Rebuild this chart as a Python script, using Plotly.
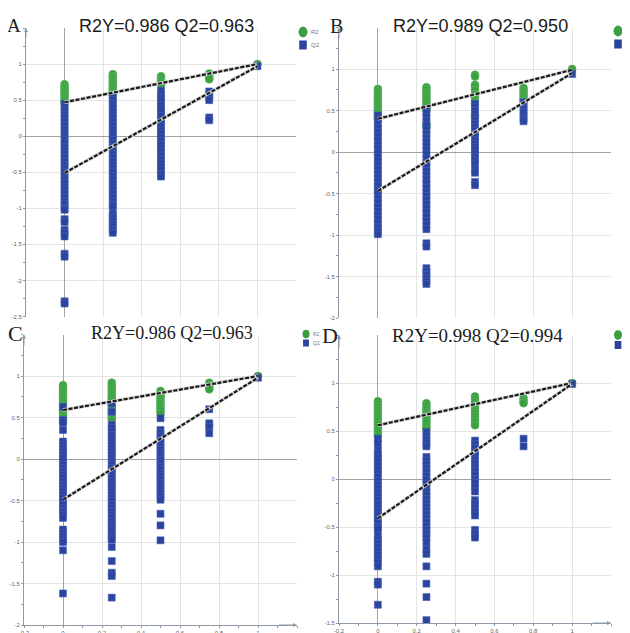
import plotly.graph_objects as go

COLS = [0, 0.25, 0.5, 0.75, 1]
LINE_X = [0, 1]
X_TICKS = [-0.2, 0, 0.2, 0.4, 0.6, 0.8, 1]
X_TICKTEXT = ["-0.2", "0", "0.2", "0.4", "0.6", "0.8", "1"]
LEGEND_LABELS = ["R2", "Q2"]

# ---------------- Panel A ----------------
A_TITLE = "R2Y=0.986 Q2=0.963"
A_R2 = [
    [0.72, 0.69, 0.66, 0.63, 0.60, 0.57, 0.54, 0.51, 0.48, 0.46],
    [0.86, 0.83, 0.80, 0.77, 0.74, 0.71, 0.68, 0.65, 0.62, 0.59, 0.56],
    [0.83, 0.80, 0.77, 0.74, 0.71],
    [0.87, 0.84, 0.81, 0.79],
    [1.0],
]
A_Q2 = [
    [0.45, 0.40, 0.35, 0.30, 0.25, 0.20, 0.15, 0.10, 0.05, 0.00, -0.05, -0.10, -0.15, -0.20,
     -0.25, -0.30, -0.35, -0.40, -0.45, -0.50, -0.55, -0.60, -0.65, -0.70, -0.75, -0.80,
     -0.85, -0.90, -0.95, -1.00, -1.02, -1.15, -1.19, -1.30, -1.34, -1.39, -1.63, -1.67,
     -2.29, -2.32],
    [0.55, 0.50, 0.45, 0.40, 0.35, 0.30, 0.25, 0.20, 0.15, 0.10, 0.05, 0.00, -0.05, -0.10,
     -0.15, -0.20, -0.25, -0.30, -0.35, -0.40, -0.45, -0.50, -0.55, -0.60, -0.65, -0.70,
     -0.75, -0.80, -0.85, -0.90, -0.95, -0.97, -1.06, -1.10, -1.14, -1.18, -1.22, -1.26,
     -1.30, -1.34],
    [0.63, 0.58, 0.53, 0.48, 0.43, 0.38, 0.33, 0.28, 0.23, 0.18, 0.13, 0.08, 0.03, -0.02,
     -0.07, -0.12, -0.17, -0.22, -0.27, -0.32, -0.37, -0.42, -0.47, -0.52, -0.56],
    [0.62, 0.58, 0.54, 0.50, 0.26, 0.22],
    [0.97],
]
A_R2_LINE = [0.47, 1.0]
A_Q2_LINE = [-0.51, 0.97]
A_YTICKS = [1, 0.5, 0, -0.5, -1, -1.5, -2, -2.5]

# ---------------- Panel B ----------------
B_TITLE = "R2Y=0.989 Q2=0.950"
B_R2 = [
    [0.76, 0.73, 0.70, 0.67, 0.64, 0.61, 0.58, 0.55, 0.52, 0.49, 0.46, 0.43, 0.40],
    [0.78, 0.75, 0.72, 0.69, 0.66, 0.63, 0.60, 0.57, 0.54, 0.51, 0.33, 0.30],
    [0.93, 0.91, 0.81, 0.79, 0.75, 0.70, 0.66, 0.62, 0.58, 0.45, 0.42],
    [0.77, 0.74, 0.71, 0.68, 0.65, 0.62],
    [1.0],
]
B_Q2 = [
    [0.44, 0.39, 0.34, 0.29, 0.24, 0.19, 0.14, 0.09, 0.04, -0.01, -0.06, -0.11, -0.16,
     -0.21, -0.26, -0.31, -0.36, -0.41, -0.46, -0.51, -0.56, -0.61, -0.66, -0.71, -0.76,
     -0.81, -0.86, -0.91, -0.96, -0.99],
    [0.52, 0.47, 0.42, 0.37, 0.32, 0.27, 0.22, 0.17, 0.12, 0.07, 0.02, -0.03, -0.08, -0.13,
     -0.18, -0.23, -0.28, -0.33, -0.38, -0.43, -0.48, -0.53, -0.58, -0.63, -0.68, -0.73,
     -0.78, -0.83, -0.88, -0.93, -1.10, -1.14, -1.40, -1.44, -1.48, -1.52, -1.56, -1.59],
    [0.58, 0.54, 0.50, 0.46, 0.42, 0.38, 0.34, 0.30, 0.26, 0.22, 0.18, 0.14, 0.10, 0.06,
     0.02, -0.02, -0.06, -0.10, -0.14, -0.21, -0.25, -0.36, -0.40],
    [0.60, 0.56, 0.52, 0.48, 0.44, 0.40, 0.37],
    [0.94],
]
B_R2_LINE = [0.40, 0.99]
B_Q2_LINE = [-0.47, 0.95]
B_YTICKS = [1, 0.5, 0, -0.5, -1, -1.5, -2]

# ---------------- Panel C ----------------
C_TITLE = "R2Y=0.986 Q2=0.963"
C_R2 = [
    [0.89, 0.86, 0.83, 0.80, 0.77, 0.74, 0.71, 0.68, 0.65, 0.62, 0.59, 0.56, 0.53, 0.50, 0.47, 0.44],
    [0.92, 0.89, 0.86, 0.83, 0.80, 0.77, 0.74, 0.71, 0.68, 0.65, 0.62, 0.59, 0.56, 0.53, 0.50, 0.47],
    [0.82, 0.79, 0.76, 0.73, 0.70, 0.67, 0.64, 0.61, 0.58, 0.55],
    [0.92, 0.89, 0.86, 0.84],
    [1.0],
]
C_Q2 = [
    [0.63, 0.47, 0.44, 0.35, 0.21, 0.17, 0.13, 0.09, 0.05, 0.01, -0.03, -0.07, -0.11, -0.15,
     -0.19, -0.23, -0.27, -0.31, -0.35, -0.39, -0.43, -0.47, -0.51, -0.55, -0.59, -0.63,
     -0.67, -0.71, -0.85, -0.89, -0.93, -0.97, -1.00, -1.10, -1.62],
    [0.67, 0.57, 0.41, 0.37, 0.33, 0.29, 0.25, 0.21, 0.17, 0.13, 0.09, 0.05, 0.01, -0.03,
     -0.07, -0.11, -0.15, -0.19, -0.23, -0.27, -0.31, -0.35, -0.39, -0.43, -0.47, -0.51,
     -0.55, -0.59, -0.63, -0.67, -0.71, -0.75, -0.79, -0.83, -0.87, -0.91, -0.95, -0.97,
     -1.06, -1.23, -1.37, -1.41, -1.67],
    [0.49, 0.35, 0.31, 0.27, 0.23, 0.19, 0.15, 0.11, 0.07, 0.03, -0.01, -0.05, -0.09, -0.13,
     -0.17, -0.21, -0.25, -0.29, -0.33, -0.37, -0.41, -0.45, -0.49, -0.66, -0.80, -0.98],
    [0.60, 0.43, 0.39, 0.31],
    [0.98],
]
C_R2_LINE = [0.59, 1.0]
C_Q2_LINE = [-0.49, 0.98]
C_YTICKS = [1, 0.5, 0, -0.5, -1, -1.5, -2]

# ---------------- Panel D ----------------
D_TITLE = "R2Y=0.998 Q2=0.994"
D_R2 = [
    [0.81, 0.78, 0.75, 0.72, 0.69, 0.66, 0.63, 0.60, 0.57, 0.54, 0.51, 0.48, 0.45],
    [0.79, 0.76, 0.73, 0.70, 0.67, 0.64, 0.61, 0.58, 0.55, 0.52],
    [0.86, 0.83, 0.80, 0.77, 0.74, 0.71, 0.68, 0.65, 0.62, 0.59, 0.56],
    [0.84, 0.81, 0.79],
    [1.0],
]
D_Q2 = [
    [0.42, 0.37, 0.30, 0.26, 0.22, 0.18, 0.14, 0.10, 0.06, 0.02, -0.02, -0.06, -0.10, -0.14,
     -0.18, -0.22, -0.26, -0.30, -0.34, -0.38, -0.42, -0.46, -0.50, -0.52, -0.59, -0.63,
     -0.67, -0.71, -0.75, -0.79, -0.83, -0.87, -0.91, -1.07, -1.10, -1.31],
    [0.49, 0.45, 0.41, 0.37, 0.34, 0.23, 0.19, 0.15, 0.11, 0.07, 0.03, -0.01, -0.05, -0.09,
     -0.13, -0.17, -0.21, -0.25, -0.29, -0.33, -0.37, -0.41, -0.45, -0.49, -0.53, -0.57,
     -0.61, -0.66, -0.73, -0.78, -0.91, -1.09, -1.23, -1.47],
    [0.40, 0.36, 0.32, 0.28, 0.24, 0.20, 0.16, 0.12, 0.08, 0.04, 0.00, -0.04, -0.08, -0.13,
     -0.22, -0.26, -0.30, -0.34, -0.38, -0.53, -0.57, -0.61],
    [0.42, 0.34],
    [0.99],
]
D_R2_LINE = [0.56, 1.0]
D_Q2_LINE = [-0.41, 0.99]
D_YTICKS = [1, 0.5, 0, -0.5, -1, -1.5]

# ---------------- Figure ----------------
W, H = 630, 633
OFF = 8  # default page body margin in the written HTML
GREEN = "#3b9f41"
BLUE = "#2a44a0"
AXCOL = "#8d9aa6"
GRID = "#e4e4e4"
ZERO = "#a3a3a3"


def px_x(p):
    return (p - OFF) / W


def px_y(p):
    return 1 - (p - OFF) / H


panels = [
    dict(n="", letter="A", title=A_TITLE, r2=A_R2, q2=A_Q2, r2l=A_R2_LINE, q2l=A_Q2_LINE,
         yt=A_YTICKS, yr=[-2.5, 1.5], xd=(26, 296), yd=(28, 316.5), tfont="Liberation Sans",
         tsize=18, tc=(166, 26), lg=(303, 32, 45, 9, 6), lc=(14, 26), lsize=19, xlab=False),
    dict(n="2", letter="B", title=B_TITLE, r2=B_R2, q2=B_Q2, r2l=B_R2_LINE, q2l=B_Q2_LINE,
         yt=B_YTICKS, yr=[-2, 1.5], xd=(339, 611), yd=(27.5, 318), tfont="Liberation Sans",
         tsize=18, tc=(480, 26), lg=(618, 31, 44, 9, 6), lc=(336, 26), lsize=20, xlab=False),
    dict(n="3", letter="C", title=C_TITLE, r2=C_R2, q2=C_Q2, r2l=C_R2_LINE, q2l=C_Q2_LINE,
         yt=C_YTICKS, yr=[-2, 1.5], xd=(24, 297), yd=(334.5, 625), tfont="Liberation Serif",
         tsize=18, tc=(172, 333), lg=(306, 334, 343, 7, 5), lc=(15, 333), lsize=22, xlab=True),
    dict(n="4", letter="D", title=D_TITLE, r2=D_R2, q2=D_Q2, r2l=D_R2_LINE, q2l=D_Q2_LINE,
         yt=D_YTICKS, yr=[-1.5, 1.5], xd=(339, 611), yd=(335, 623), tfont="Liberation Serif",
         tsize=19, tc=(477, 335), lg=(618, 335, 345, 8, 5), lc=(330, 335), lsize=22, xlab=True),
]

fig = go.Figure()
layout = dict(
    width=W, height=H, margin=dict(l=0, r=0, t=0, b=0, autoexpand=False),
    paper_bgcolor="white", plot_bgcolor="white",
    showlegend=False, annotations=[], shapes=[],
)

for p in panels:
    n = p["n"]
    xa = "x" + n
    ya = "y" + n
    rx, ry = [], []
    for c, vals in zip(COLS, p["r2"]):
        for v in vals:
            rx.append(c)
            ry.append(v)
    qx, qy = [], []
    for c, vals in zip(COLS, p["q2"]):
        for v in vals:
            qx.append(c)
            qy.append(v)
    fig.add_trace(go.Scatter(
        x=rx, y=ry, mode="markers", name="R2", xaxis=xa, yaxis=ya,
        marker=dict(symbol="circle", size=8, color=GREEN, line=dict(width=0.6, color="#62bb66")),
    ))
    fig.add_trace(go.Scatter(
        x=qx, y=qy, mode="markers", name="Q2", xaxis=xa, yaxis=ya,
        marker=dict(symbol="square", size=7, color=BLUE, line=dict(width=0.6, color="#4a63b5")),
    ))
    for ly in (p["r2l"], p["q2l"]):
        fig.add_trace(go.Scatter(
            x=LINE_X, y=ly, mode="lines", xaxis=xa, yaxis=ya,
            line=dict(color="#d6d6d6", width=3.4), hoverinfo="skip",
        ))
        fig.add_trace(go.Scatter(
            x=LINE_X, y=ly, mode="lines", xaxis=xa, yaxis=ya,
            line=dict(color="#1a1a1a", width=2.2, dash="4px,1.6px"), hoverinfo="skip",
        ))

    xdom = [px_x(p["xd"][0]), px_x(p["xd"][1])]
    ydom = [px_y(p["yd"][1]), px_y(p["yd"][0])]
    layout["xaxis" + n] = dict(
        domain=xdom, anchor=ya, range=[-0.2, 1.2], automargin=False,
        tickvals=X_TICKS, ticktext=X_TICKTEXT,
        showgrid=True, gridcolor=GRID, gridwidth=1,
        zeroline=True, zerolinecolor=ZERO, zerolinewidth=1,
        showline=p["xlab"], linecolor=AXCOL, linewidth=1,
        showticklabels=p["xlab"], ticks="outside" if p["xlab"] else "",
        ticklen=2, tickcolor=AXCOL,
        tickfont=dict(size=6, color="#666666", family="Liberation Sans"),
        minor=dict(ticks="outside" if p["xlab"] else "", ticklen=2, tickcolor=AXCOL, dtick=0.1),
        fixedrange=True,
    )
    layout["yaxis" + n] = dict(
        domain=ydom, anchor=xa, range=p["yr"], automargin=False,
        tickvals=p["yt"], ticktext=["%g" % v for v in p["yt"]],
        showgrid=True, gridcolor=GRID, gridwidth=1,
        zeroline=True, zerolinecolor=ZERO, zerolinewidth=1,
        showline=True, linecolor=AXCOL, linewidth=1,
        ticks="outside", ticklen=2, tickcolor=AXCOL,
        tickfont=dict(size=6, color="#666666", family="Liberation Sans"),
        minor=dict(ticks="outside", ticklen=2, tickcolor=AXCOL, dtick=0.25),
        fixedrange=True,
    )
    # manual legend glyphs
    gx, gy1, gy2, gs, fs = p["lg"]
    layout["shapes"].append(dict(
        type="circle", xref="paper", yref="paper",
        x0=px_x(gx - gs / 2), x1=px_x(gx + gs / 2),
        y0=px_y(gy1 + gs * 0.6), y1=px_y(gy1 - gs * 0.6),
        fillcolor=GREEN, line=dict(width=0),
    ))
    layout["shapes"].append(dict(
        type="rect", xref="paper", yref="paper",
        x0=px_x(gx - gs * 0.42), x1=px_x(gx + gs * 0.42),
        y0=px_y(gy2 + gs * 0.5), y1=px_y(gy2 - gs * 0.5),
        fillcolor=BLUE, line=dict(width=0),
    ))
    for lab, gy in zip(LEGEND_LABELS, (gy1, gy2)):
        layout["annotations"].append(dict(
            x=px_x(gx + gs * 0.7), y=px_y(gy), xref="paper", yref="paper",
            text=lab, showarrow=False, xanchor="left", yanchor="middle",
            font=dict(family="Liberation Sans", size=fs, color="#777777"),
        ))
    # title
    layout["annotations"].append(dict(
        x=px_x(p["tc"][0]), y=px_y(p["tc"][1]), xref="paper", yref="paper",
        text=p["title"], showarrow=False, xanchor="center", yanchor="middle",
        font=dict(family=p["tfont"], size=p["tsize"], color="#1a1a1a"),
    ))
    # panel letter
    layout["annotations"].append(dict(
        x=px_x(p["lc"][0]), y=px_y(p["lc"][1]), xref="paper", yref="paper",
        text=p["letter"], showarrow=False, xanchor="center", yanchor="middle",
        font=dict(family="Liberation Serif", size=p["lsize"], color="#222222"),
    ))
    # y axis arrow
    layout["annotations"].append(dict(
        x=-0.2, y=p["yr"][1], xref=xa, yref=ya, ax=-0.2, ay=p["yr"][1] - 0.15,
        axref=xa, ayref=ya, showarrow=True, arrowhead=2, arrowsize=0.8, arrowwidth=1,
        arrowcolor=AXCOL, text="",
    ))
    if p["xlab"]:
        layout["annotations"].append(dict(
            x=1.2, y=p["yr"][0], xref=xa, yref=ya, ax=1.1, ay=p["yr"][0],
            axref=xa, ayref=ya, showarrow=True, arrowhead=2, arrowsize=0.8, arrowwidth=1,
            arrowcolor=AXCOL, text="",
        ))

fig.update_layout(**layout)
fig.write_html("out.html")
